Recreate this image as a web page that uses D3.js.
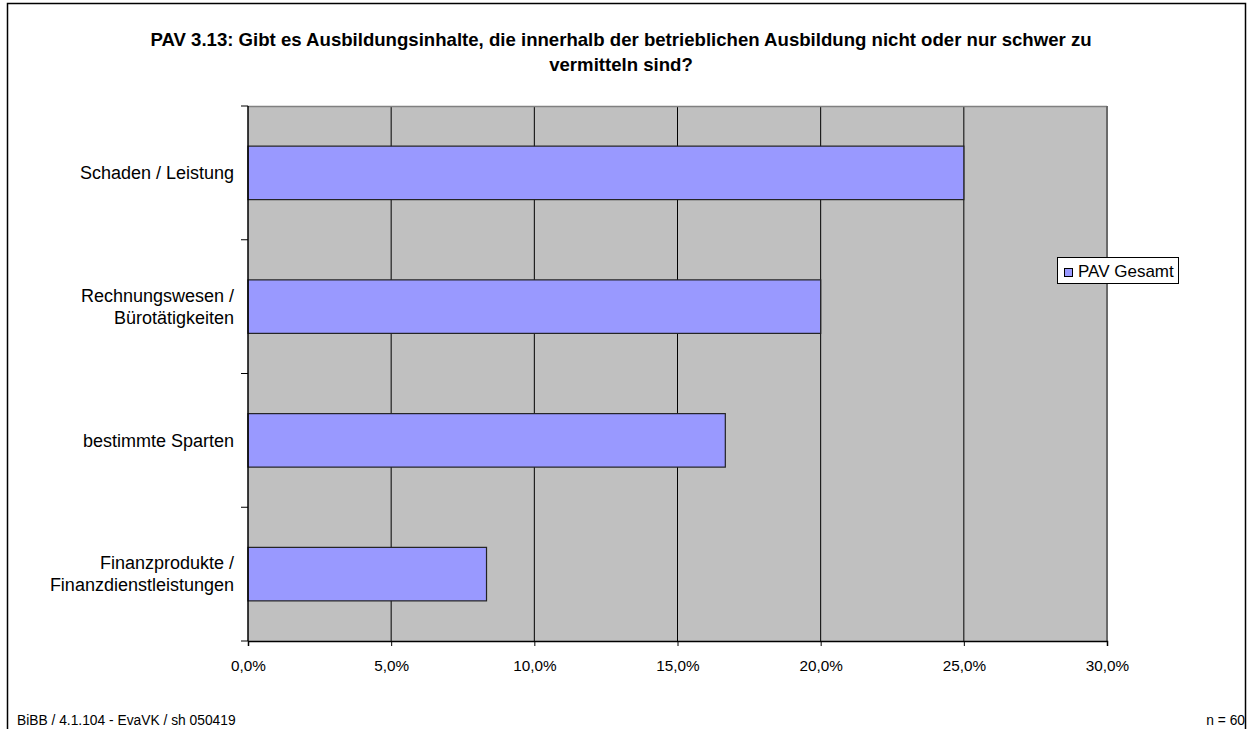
<!DOCTYPE html>
<html>
<head>
<meta charset="utf-8">
<script src="https://cdn.jsdelivr.net/npm/d3@7"></script>
<style>
  body { margin: 0; background: #fff; }
  svg text { font-family: "Liberation Sans", Arial, sans-serif; }
</style>
</head>
<body>
<svg width="1251" height="729"></svg>
<script>
// chart data
const categories = [
  ["Schaden / Leistung"],
  ["Rechnungswesen /", "Bürotätigkeiten"],
  ["bestimmte Sparten"],
  ["Finanzprodukte /", "Finanzdienstleistungen"]
];
const values = [25.0, 20.0, 16.67, 8.33];
const xTicks = [0, 5, 10, 15, 20, 25, 30];
const seriesName = "PAV Gesamt";
const titleLines = [
  "PAV 3.13: Gibt es Ausbildungsinhalte, die innerhalb der betrieblichen Ausbildung nicht oder nur schwer zu",
  "vermitteln sind?"
];

const svg = d3.select('svg');
const margin = { top: 106, right: 144, bottom: 88, left: 248 };
const width = +svg.attr('width');
const height = +svg.attr('height');
const innerRight = width - margin.right;   // 1107
const innerBottom = height - margin.bottom; // 641

// outer frame
svg.append('rect')
  .attr('x', 7.5).attr('y', 3.5)
  .attr('width', 1238).attr('height', 740)
  .attr('fill', 'none')
  .attr('stroke', '#000')
  .attr('stroke-width', 1.5);

// title
svg.selectAll('.title').data(titleLines)
  .enter().append('text')
  .attr('class', 'title')
  .attr('x', 621)
  .attr('y', (d, i) => 46 + i * 25)
  .attr('text-anchor', 'middle')
  .attr('font-size', '18.6px')
  .attr('font-weight', 'bold')
  .text(d => d);

const xScale = d3.scaleLinear()
  .domain([0, 30])
  .range([margin.left, innerRight]);

const yScale = d3.scaleBand()
  .domain(d3.range(categories.length))
  .range([margin.top, innerBottom])
  .paddingInner(0.6)
  .paddingOuter(0.3);

// plot background
svg.append('rect')
  .attr('x', margin.left).attr('y', margin.top)
  .attr('width', innerRight - margin.left)
  .attr('height', innerBottom - margin.top)
  .attr('fill', '#c0c0c0');

// grid lines
svg.selectAll('.grid').data(xTicks.slice(1, -1))
  .enter().append('line')
  .attr('class', 'grid')
  .attr('x1', d => xScale(d)).attr('x2', d => xScale(d))
  .attr('y1', margin.top).attr('y2', innerBottom)
  .attr('stroke', '#000')
  .attr('stroke-width', 1);

// plot border top/right
svg.append('line')
  .attr('x1', margin.left).attr('x2', innerRight)
  .attr('y1', margin.top + 0.5).attr('y2', margin.top + 0.5)
  .attr('stroke', '#808080').attr('stroke-width', 1.5);
svg.append('line')
  .attr('x1', innerRight).attr('x2', innerRight)
  .attr('y1', margin.top).attr('y2', innerBottom)
  .attr('stroke', '#6a6a6a').attr('stroke-width', 2);

// bars
svg.selectAll('.bar').data(values)
  .enter().append('rect')
  .attr('class', 'bar')
  .attr('x', xScale(0))
  .attr('y', (d, i) => yScale(i))
  .attr('width', d => xScale(d) - xScale(0))
  .attr('height', yScale.bandwidth())
  .attr('fill', '#9999ff')
  .attr('stroke', '#222')
  .attr('stroke-width', 1.2);

// x axis
const xAxis = d3.axisBottom(xScale)
  .tickValues(xTicks)
  .tickSize(5)
  .tickFormat(d => d3.format('.1f')(d).replace('.', ',') + '%');
const gx = svg.append('g')
  .attr('transform', 'translate(0,' + innerBottom + ')')
  .call(xAxis);
gx.select('.domain').attr('stroke', '#000').attr('stroke-width', 1.5);
gx.selectAll('.tick line').attr('stroke', '#000');
gx.selectAll('text')
  .attr('font-family', '"Liberation Sans", Arial, sans-serif')
  .attr('font-size', '15.3px')
  .attr('fill', '#000')
  .attr('y', 30)
  .attr('dy', null);

// y axis: ticks at band boundaries
const boundaries = d3.range(categories.length + 1).map(i =>
  margin.top + i * (innerBottom - margin.top) / categories.length);
svg.append('line')
  .attr('x1', margin.left).attr('x2', margin.left)
  .attr('y1', margin.top).attr('y2', innerBottom)
  .attr('stroke', '#000').attr('stroke-width', 1.5);
svg.selectAll('.ytick').data(boundaries)
  .enter().append('line')
  .attr('class', 'ytick')
  .attr('x1', margin.left - 7).attr('x2', margin.left)
  .attr('y1', d => d).attr('y2', d => d)
  .attr('stroke', '#000');

// category labels
const labels = svg.selectAll('.cat').data(categories)
  .enter().append('text')
  .attr('class', 'cat')
  .attr('text-anchor', 'end')
  .attr('font-size', '18px')
  .attr('fill', '#000');
labels.each(function (lines, i) {
  const cy = yScale(i) + yScale.bandwidth() / 2;
  const lh = 22;
  const start = cy - (lines.length - 1) * lh / 2;
  d3.select(this).selectAll('tspan').data(lines)
    .enter().append('tspan')
    .attr('x', 234)
    .attr('y', (d, j) => start + j * lh)
    .attr('dy', '0.35em')
    .text(d => d);
});

// legend
const lg = svg.append('g').attr('transform', 'translate(1057,257)');
lg.append('rect')
  .attr('x', 0.5).attr('y', 0.5)
  .attr('width', 121).attr('height', 26)
  .attr('fill', '#fff')
  .attr('stroke', '#000');
lg.append('rect')
  .attr('x', 7.5).attr('y', 11.5)
  .attr('width', 8).attr('height', 8)
  .attr('fill', '#9999ff')
  .attr('stroke', '#000');
lg.append('text')
  .attr('x', 21).attr('y', 20)
  .attr('font-size', '17px')
  .text(seriesName);

// footer
svg.append('text')
  .attr('x', 17).attr('y', 725)
  .attr('font-size', '13.8px')
  .text('BiBB / 4.1.104 - EvaVK / sh 050419');
svg.append('text')
  .attr('x', 1245).attr('y', 725)
  .attr('text-anchor', 'end')
  .attr('font-size', '13.8px')
  .text('n = 60');
</script>
</body>
</html>
